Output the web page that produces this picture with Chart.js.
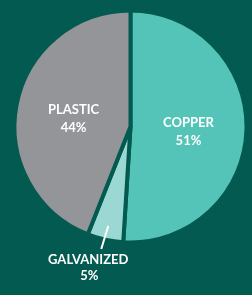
<!DOCTYPE html>
<html>
<head>
<meta charset="utf-8">
<script src="https://cdn.jsdelivr.net/npm/chart.js@4/dist/chart.umd.min.js"></script>
<style>
  html, body { margin: 0; padding: 0; background: #035a51; }
  #wrap { width: 252px; height: 295px; position: relative; }
</style>
</head>
<body>
<div id="wrap"><canvas id="c" width="252" height="295"></canvas></div>
<script>
const categories = ["COPPER", "GALVANIZED", "PLASTIC"];
const shares = [51, 5, 44];
const valueLabels = ["51%", "5%", "44%"];
const sliceColors = ["#55c4b8", "#9bd8d3", "#939598"];
const BG = "#035a51";

const labelPlugin = {
  id: "sliceLabels",
  afterDatasetsDraw(chart) {
    const ctx = chart.ctx;
    const meta = chart.getDatasetMeta(0);
    ctx.save();
    ctx.fillStyle = "#ffffff";
    ctx.textAlign = "center";
    ctx.textBaseline = "middle";
    ctx.font = "bold 13px Lato";
    meta.data.forEach((arc, i) => {
      const p = arc.getProps(["x", "y", "startAngle", "endAngle", "outerRadius"], true);
      if (categories[i] === "GALVANIZED") {
        const mid = (p.startAngle + p.endAngle) / 2;
        const r0 = p.outerRadius - 14;
        const sx = p.x + Math.cos(mid) * r0;
        const sy = p.y + Math.sin(mid) * r0;
        const ex = sx - 7, ey = sy + 23;
        ctx.strokeStyle = "#ffffff";
        ctx.lineWidth = 2;
        ctx.beginPath();
        ctx.moveTo(sx, sy);
        ctx.lineTo(ex, ey);
        ctx.stroke();
        ctx.fillText(categories[i], ex - 13, ey + 11);
        ctx.fillText(valueLabels[i], ex - 12, ey + 27);
      } else {
        const pos = arc.tooltipPosition(true);
        ctx.fillText(categories[i], pos.x, pos.y - 6);
        ctx.fillText(valueLabels[i], pos.x, pos.y + 12);
      }
    });
    ctx.restore();
  }
};

new Chart(document.getElementById("c"), {
  type: "pie",
  data: {
    labels: categories,
    datasets: [{
      data: shares,
      backgroundColor: sliceColors,
      borderColor: BG,
      borderWidth: 4,
      radius: 116
    }]
  },
  options: {
    responsive: false,
    animation: false,
    layout: { padding: { left: 9, right: 0, top: 0, bottom: 42 } },
    plugins: {
      legend: { display: false },
      tooltip: { enabled: false }
    }
  },
  plugins: [labelPlugin]
});
</script>
</body>
</html>
